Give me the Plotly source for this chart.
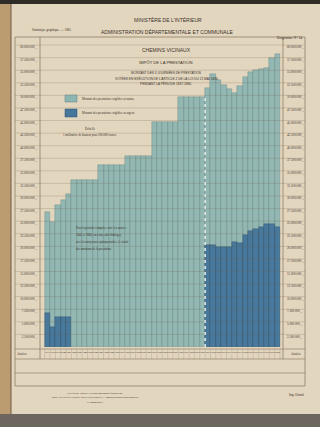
import plotly.graph_objects as go

# ---------------- data ----------------
years = list(range(1837, 1881))
# total amount of the prestation (millions of francs)
total_millions = [
    26.8, 24.8, 28.2, 29.2, 30.4,          # 1837-1841
    33.2, 33.2, 33.2, 33.2, 33.2,          # 1842-1846 (moyenne)
    36.2, 36.2, 36.2, 36.2, 36.2,          # 1847-1851
    37.9, 37.9, 37.9, 37.9, 37.9,          # 1852-1856
    44.7, 44.7, 44.7, 44.7, 44.7,          # 1857-1861
    49.7, 49.7, 49.7, 49.7, 49.7,          # 1862-1866
    51.5, 54.2, 53.0, 52.1, 51.3, 50.5, 51.9,   # 1867-1873
    53.6, 54.6, 55.0, 55.2, 55.4, 57.4, 58.2,   # 1874-1880
]
# part payable in money (millions of francs); None = not recorded separately
argent_millions = [
    6.8, 4.0, 6.0, 6.0, 6.0,
    None, None, None, None, None,
    None, None, None, None, None,
    None, None, None, None, None,
    None, None, None, None, None,
    None, None, None, None, None,
    20.3, 20.3, 19.9, 19.9, 19.9, 20.9, 20.7,
    22.3, 23.0, 23.4, 23.8, 24.4, 24.4, 23.8,
]
y_tick_values = [i * 2500000 for i in range(1, 25)]
y_tick_labels = ["{:,}".format(v).replace(",", ".") + " _" for v in y_tick_values]
x_tick_labels = [str(y) for y in years]

total = [v * 1e6 for v in total_millions]
argent = [None if v is None else v * 1e6 for v in argent_millions]

# ---------------- styling ----------------
W, H = 320, 427
ML, MR, MT, MB = 40, 37, 40, 80
PW, PH = W - ML - MR, H - MT - MB
PAPER = "#e3d6bf"
LIGHT = "#8db6b3"
DARK = "#45769b"
INK = "#3a3128"
LINE = "#8f7f6a"
SERIF = "Liberation Serif, DejaVu Serif, serif"
NARROW = "Liberation Sans Narrow, Liberation Sans, Arial, sans-serif"


def px(x):
    return (x - ML) / PW


def py(y):
    return (H - MB - y) / PH


fig = go.Figure()
fig.add_trace(go.Bar(
    x=years, y=total, name="Montant des prestations exigibles en nature",
    marker=dict(color=LIGHT, line=dict(color="rgba(40,80,85,0.45)", width=0.5)),
    width=1, opacity=0.93, showlegend=False, hoverinfo="x+y",
))
fig.add_trace(go.Bar(
    x=years, y=argent, name="Montant des prestations exigibles en argent",
    marker=dict(color=DARK, line=dict(color="rgba(20,45,70,0.5)", width=0.5)),
    width=1, opacity=0.95, showlegend=False, hoverinfo="x+y",
))

shapes = []
annots = []

# photographic page surroundings
shapes.append(dict(type="rect", xref="paper", yref="paper", x0=px(0), x1=px(11), y0=py(0), y1=py(H),
                   fillcolor="#bb9b70", line=dict(width=0), layer="below"))
shapes.append(dict(type="line", xref="paper", yref="paper", x0=px(11), x1=px(11), y0=py(0), y1=py(H),
                   line=dict(color="#6e5a42", width=1), layer="below"))
shapes.append(dict(type="rect", xref="paper", yref="paper", x0=px(0), x1=px(W), y0=py(0), y1=py(4),
                   fillcolor="#2f2b27", line=dict(width=0), layer="below"))
shapes.append(dict(type="rect", xref="paper", yref="paper", x0=px(0), x1=px(W), y0=py(414), y1=py(H),
                   fillcolor="#6c665f", line=dict(width=0), layer="below"))

# frame of the diagram
shapes.append(dict(type="rect", xref="paper", yref="paper", x0=px(15), x1=px(305), y0=py(37), y1=py(386),
                   line=dict(color=LINE, width=0.8), layer="above"))
for yy in [349, 359, 373]:
    shapes.append(dict(type="line", xref="paper", yref="paper", x0=px(15), x1=px(305), y0=py(yy), y1=py(yy),
                       line=dict(color=LINE, width=0.7), layer="above"))
for xx in [40, 283]:
    shapes.append(dict(type="line", xref="paper", yref="paper", x0=px(xx), x1=px(xx), y0=py(37), y1=py(359),
                       line=dict(color=LINE, width=0.8), layer="above"))
# year separators in the label row
for i in range(len(years) + 1):
    xv = years[0] - 0.5 + i
    shapes.append(dict(type="line", xref="x", yref="paper", x0=xv, x1=xv, y0=py(349), y1=py(359),
                       line=dict(color="rgba(140,125,105,0.6)", width=0.4), layer="above"))

# horizontal ruling at each tick, across the whole sheet
for v in y_tick_values:
    shapes.append(dict(type="line", xref="paper", yref="y", x0=px(15), x1=px(305), y0=v, y1=v,
                       line=dict(color="rgba(110,92,72,0.38)", width=0.6), layer="above"))

# dashed separation between the averaged and the yearly periods
shapes.append(dict(type="line", xref="x", yref="y", x0=1866.5, x1=1866.5, y0=0, y1=total[years.index(1866)],
                   line=dict(color="#dfe8e4", width=1.6, dash="dot"), layer="above"))

# legend boxes
shapes.append(dict(type="rect", xref="paper", yref="paper", x0=px(65), x1=px(77), y0=py(95), y1=py(102),
                   fillcolor=LIGHT, line=dict(color="#5d7f7d", width=0.5), layer="above"))
shapes.append(dict(type="rect", xref="paper", yref="paper", x0=px(65), x1=px(77), y0=py(109), y1=py(117),
                   fillcolor=DARK, line=dict(color="#2d4f69", width=0.5), layer="above"))


def txt(x, y, s, size=4, anchor="center", font=SERIF, color=INK):
    annots.append(dict(x=px(x), y=py(y), xref="paper", yref="paper", text=s, showarrow=False,
                       xanchor=anchor, yanchor="middle", font=dict(size=size, family=font, color=color)))


txt(168, 20, "MINISTÈRE DE L'INTÉRIEUR", 5, font=NARROW)
txt(167, 32, "ADMINISTRATION DÉPARTEMENTALE ET COMMUNALE", 5, font=NARROW)
txt(30, 30, "Statistique graphique. — 1881.", 3.2, anchor="left")
txt(305, 38, "Diagramme N° 24.", 3.4, anchor="right")

txt(166, 50, "CHEMINS VICINAUX", 5, font=NARROW)
txt(166, 62, "IMPÔT DE LA PRESTATION", 4.2, font=NARROW)
txt(166, 72, "MONTANT DES 3 JOURNÉES DE PRESTATION", 3.2, font=NARROW)
txt(166, 78, "VOTÉES EN EXÉCUTION DE L'ARTICLE 2 DE LA LOI DU 21 MAI 1836", 3.2, font=NARROW)
txt(166, 84, "PENDANT LA PÉRIODE 1837-1880.", 3.2, font=NARROW)

txt(80, 98.5, "Montant des prestations exigibles en nature.", 3, anchor="left")
txt(80, 113, "Montant des prestations exigibles en argent.", 3, anchor="left")
txt(90, 128, "Échelle", 3.4)
txt(90, 135, "1 millimètre de hauteur pour 200.000 francs.", 3)

for i, line in enumerate([
    "Pour la période comprise entre les années",
    "1842 et 1866, on a fait, afin d'abréger,",
    "avec les moyennes quinquennales, le calcul",
    "des montants de la prestation.",
]):
    txt(74, 228 + i * 7, line, 3, anchor="left")

txt(22, 354, "Années", 3.2)
txt(296, 354, "Années", 3.2)

txt(95, 393, "Étal dressé d'après les renseignements fournis par", 2.8)
txt(95, 397.5, "MM. les Préfets et publié par la Direction de l'Administration départementale", 2.8)
txt(95, 402, "et communale.", 2.8)
txt(296, 395, "Imp. Erhard.", 3)

fig.update_layout(
    width=W, height=H,
    margin=dict(l=ML, r=MR, t=MT, b=MB, pad=0),
    paper_bgcolor=PAPER, plot_bgcolor=PAPER,
    barmode="overlay", bargap=0,
    showlegend=False,
    separators=",.",
    shapes=shapes, annotations=annots,
    xaxis=dict(range=[1835.62, 1881.06], tickmode="array", tickvals=years, ticktext=x_tick_labels,
               tickangle=0, tickfont=dict(size=2.6, family=SERIF, color=INK), ticks="",
               showgrid=False, zeroline=False, showline=False, ticklabelstandoff=2),
    yaxis=dict(range=[0, 61.0e6], tickmode="array", tickvals=y_tick_values, ticktext=y_tick_labels,
               tickfont=dict(size=3.2, family=SERIF, color=INK), ticks="", showgrid=False,
               zeroline=False, showline=False, ticklabelshift=2, ticklabelstandoff=2),
    yaxis2=dict(range=[0, 61.0e6], overlaying="y", side="right", tickmode="array",
                tickvals=y_tick_values, ticktext=y_tick_labels,
                tickfont=dict(size=3.2, family=SERIF, color=INK), ticks="", showgrid=False,
                zeroline=False, showline=False, ticklabelshift=2, ticklabelstandoff=3),
)
# invisible trace to carry the right-hand axis
fig.add_trace(go.Scatter(x=[years[0]], y=[0], yaxis="y2", mode="markers",
                         marker=dict(opacity=0), showlegend=False, hoverinfo="skip"))

fig.write_html("out.html")
